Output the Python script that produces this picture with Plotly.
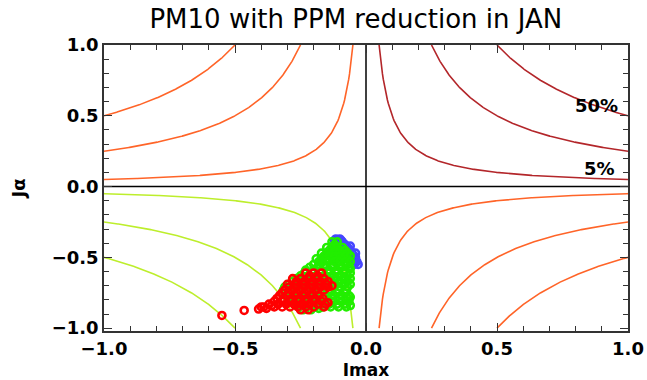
import numpy as np
import plotly.graph_objects as go

# Iso-lines of Imax * Jalpha
levels = [0.05, 0.25, 0.5]
level_labels = ["5%", "50%"]
label_x = [0.89, 0.88]
label_y = [0.13, 0.57]

# Scatter points (Imax, Jalpha)
blue_x = [-0.12, -0.10, -0.09, -0.08, -0.07, -0.06, -0.05, -0.04, -0.035, -0.05,
          -0.07, -0.09, -0.11, -0.06, -0.08, -0.10, -0.045, -0.07, -0.04, -0.06,
          -0.115, -0.095, -0.085, -0.065, -0.055, -0.04, -0.03]
blue_y = [-0.38, -0.37, -0.39, -0.41, -0.43, -0.45, -0.48, -0.50, -0.53, -0.52,
          -0.47, -0.44, -0.41, -0.49, -0.45, -0.40, -0.55, -0.50, -0.47, -0.42,
          -0.37, -0.38, -0.42, -0.46, -0.50, -0.52, -0.55]

green_x = [-0.13, -0.11,
           -0.15, -0.13, -0.11, -0.09,
           -0.17, -0.15, -0.13, -0.11, -0.09, -0.07,
           -0.19, -0.17, -0.15, -0.13, -0.11, -0.09, -0.07,
           -0.20, -0.18, -0.16, -0.13, -0.10, -0.07, -0.06,
           -0.23, -0.20, -0.17, -0.14, -0.11, -0.08,
           -0.25, -0.22, -0.19, -0.16, -0.13, -0.10, -0.07,
           -0.28, -0.25, -0.22, -0.19, -0.16, -0.13, -0.10, -0.07,
           -0.31, -0.28, -0.25, -0.22, -0.19, -0.16, -0.13, -0.10, -0.07,
           -0.32, -0.29, -0.26, -0.23, -0.20, -0.17, -0.14, -0.11, -0.08, -0.06,
           -0.28, -0.25, -0.22, -0.19, -0.16, -0.13, -0.10, -0.07,
           -0.26, -0.23, -0.20, -0.17, -0.14, -0.11, -0.08, -0.06,
           -0.24, -0.21, -0.18,
           -0.12,
           -0.14, -0.12, -0.10, -0.08,
           -0.16, -0.14, -0.12, -0.10, -0.08, -0.06,
           -0.18, -0.165, -0.145, -0.12, -0.10, -0.08, -0.06,
           -0.215, -0.185, -0.155, -0.125, -0.095, -0.065,
           -0.235, -0.205, -0.175, -0.145, -0.115, -0.085, -0.06,
           -0.265, -0.235, -0.205, -0.175, -0.145, -0.115, -0.085, -0.06,
           -0.295, -0.265, -0.235, -0.205, -0.175, -0.145, -0.115, -0.085, -0.06,
           -0.315, -0.285, -0.255, -0.225, -0.195, -0.165, -0.135, -0.105, -0.075,
           -0.305, -0.275, -0.245, -0.215, -0.185, -0.155, -0.125, -0.095, -0.065,
           -0.275, -0.245, -0.215, -0.185, -0.155, -0.125, -0.095, -0.065,
           -0.255, -0.225, -0.195, -0.165, -0.135, -0.105, -0.075]
green_y = [-0.39, -0.39,
           -0.43, -0.43, -0.43, -0.43,
           -0.47, -0.47, -0.47, -0.47, -0.47, -0.47,
           -0.51, -0.51, -0.51, -0.51, -0.51, -0.51, -0.51,
           -0.55, -0.55, -0.55, -0.55, -0.55, -0.55, -0.58,
           -0.59, -0.59, -0.59, -0.59, -0.59, -0.59,
           -0.63, -0.63, -0.63, -0.63, -0.63, -0.63, -0.63,
           -0.67, -0.67, -0.67, -0.67, -0.67, -0.67, -0.67, -0.67,
           -0.71, -0.71, -0.71, -0.71, -0.71, -0.71, -0.71, -0.71, -0.71,
           -0.75, -0.75, -0.75, -0.75, -0.75, -0.75, -0.75, -0.75, -0.75, -0.78,
           -0.79, -0.79, -0.79, -0.79, -0.79, -0.79, -0.79, -0.79,
           -0.83, -0.83, -0.83, -0.83, -0.83, -0.83, -0.83, -0.84,
           -0.87, -0.87, -0.86,
           -0.41,
           -0.45, -0.45, -0.45, -0.45,
           -0.49, -0.49, -0.49, -0.49, -0.49, -0.49,
           -0.53, -0.53, -0.53, -0.53, -0.53, -0.53, -0.53,
           -0.57, -0.57, -0.57, -0.57, -0.57, -0.57,
           -0.61, -0.61, -0.61, -0.61, -0.61, -0.61, -0.61,
           -0.65, -0.65, -0.65, -0.65, -0.65, -0.65, -0.65, -0.65,
           -0.69, -0.69, -0.69, -0.69, -0.69, -0.69, -0.69, -0.69, -0.69,
           -0.73, -0.73, -0.73, -0.73, -0.73, -0.73, -0.73, -0.73, -0.73,
           -0.77, -0.77, -0.77, -0.77, -0.77, -0.77, -0.77, -0.77, -0.77,
           -0.81, -0.81, -0.81, -0.81, -0.81, -0.81, -0.81, -0.81,
           -0.85, -0.85, -0.85, -0.85, -0.85, -0.85, -0.85]

red_x = [-0.55, -0.465, -0.41, -0.38, -0.25, -0.22,
         -0.23, -0.20, -0.17,
         -0.28, -0.25, -0.22, -0.19, -0.16,
         -0.30, -0.27, -0.24, -0.21, -0.18, -0.15, -0.13,
         -0.31, -0.28, -0.25, -0.22, -0.19, -0.16,
         -0.33, -0.30, -0.27, -0.24, -0.21, -0.18,
         -0.35, -0.32, -0.29, -0.26, -0.23, -0.20, -0.17, -0.145,
         -0.40, -0.35, -0.32, -0.29, -0.26, -0.23, -0.20, -0.16,
         -0.215, -0.185,
         -0.265, -0.235, -0.205, -0.175, -0.145,
         -0.295, -0.265, -0.235, -0.205, -0.175, -0.145,
         -0.32, -0.295, -0.265, -0.235, -0.205,
         -0.34, -0.315, -0.285, -0.255, -0.225, -0.195, -0.165,
         -0.37, -0.335, -0.305, -0.275, -0.245, -0.215, -0.185, -0.155,
         -0.39, -0.36]
red_y = [-0.91, -0.875, -0.865, -0.86, -0.87, -0.87,
         -0.61, -0.61, -0.61,
         -0.65, -0.65, -0.65, -0.65, -0.65,
         -0.69, -0.69, -0.69, -0.69, -0.69, -0.69, -0.70,
         -0.73, -0.73, -0.73, -0.73, -0.73, -0.73,
         -0.77, -0.77, -0.77, -0.77, -0.77, -0.77,
         -0.81, -0.81, -0.81, -0.81, -0.81, -0.81, -0.81, -0.82,
         -0.85, -0.85, -0.85, -0.85, -0.85, -0.85, -0.85, -0.85,
         -0.63, -0.63,
         -0.67, -0.67, -0.67, -0.67, -0.67,
         -0.71, -0.71, -0.71, -0.71, -0.71, -0.71,
         -0.75, -0.75, -0.75, -0.75, -0.75,
         -0.79, -0.79, -0.79, -0.79, -0.79, -0.79, -0.79,
         -0.83, -0.83, -0.83, -0.83, -0.83, -0.83, -0.83, -0.83,
         -0.85, -0.84]

# Quadrant colours: (sign of x, sign of y) -> colour
quad_colors = {
    (1, 1): "#b3262a",
    (-1, 1): "#ff6428",
    (1, -1): "#ff6428",
    (-1, -1): "#bdee2c",
}

FONT = "DejaVu Sans"

fig = go.Figure()

for (sx, sy), col in quad_colors.items():
    for c in levels:
        ax = np.linspace(c, 1.0, 300)
        fig.add_trace(go.Scatter(
            x=sx * ax, y=sy * c / ax, mode="lines",
            line=dict(color=col, width=1.6), hoverinfo="skip", showlegend=False))

# zero lines
fig.add_trace(go.Scatter(x=[-1, 1], y=[0, 0], mode="lines",
                         line=dict(color="black", width=1.5), showlegend=False))
fig.add_trace(go.Scatter(x=[0, 0], y=[-1.02, 1], mode="lines",
                         line=dict(color="black", width=1.5), showlegend=False))

for xs, ys, col in [(blue_x, blue_y, "#4646ff"),
                    (green_x, green_y, "#22ee00"),
                    (red_x, red_y, "#ff0000")]:
    fig.add_trace(go.Scatter(
        x=xs, y=ys, mode="markers",
        marker=dict(symbol="circle-open", size=7, color=col, line=dict(width=2.6, color=col)),
        showlegend=False))

for t, lx, ly in zip(level_labels, label_x, label_y):
    fig.add_annotation(x=lx, y=ly, text=t, showarrow=False,
                       font=dict(family=FONT, size=18, color="black", weight="bold"))

axis_common = dict(
    showgrid=False, zeroline=False, showline=True, linecolor="#333333", linewidth=1.5,
    mirror="ticks", ticks="inside", ticklen=8, tickwidth=1.3, tickcolor="#333333",
    tickfont=dict(family=FONT, size=18, color="black", weight="bold"),
    tickformat=".1f", dtick=0.5, automargin=False,
    minor=dict(ticks="inside", ticklen=5, tickwidth=1.2, tickcolor="#333333", dtick=0.1, showgrid=False),
)

fig.update_layout(
    width=647, height=380,
    margin=dict(l=104, r=19, t=45, b=49),
    paper_bgcolor="white", plot_bgcolor="white",
    title=dict(text="PM10 with PPM reduction in JAN", x=0.55, xanchor="center",
               y=0.95, yanchor="middle",
               font=dict(family=FONT, size=26, color="black")),
    xaxis=dict(range=[-1, 1], tick0=-1, ticklabelstandoff=1,
               title=dict(text="Imax", font=dict(family=FONT, size=17, color="black", weight="bold"),
                          standoff=8),
               **axis_common),
    yaxis=dict(range=[-1.02, 1], tick0=-1,
               title=dict(text="Jα", font=dict(family=FONT, size=18, color="black", weight="bold"),
                          standoff=21),
               **axis_common),
)

fig.write_html("out.html")
